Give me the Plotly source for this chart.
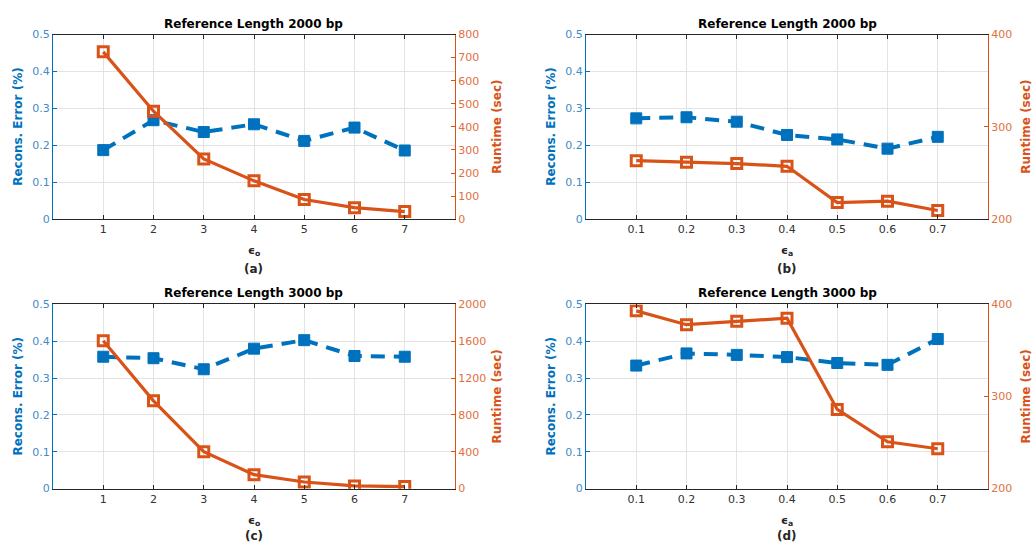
import plotly.graph_objects as go

# ---------------- data ----------------
eps_o = [1, 2, 3, 4, 5, 6, 7]
eps_a = [0.1, 0.2, 0.3, 0.4, 0.5, 0.6, 0.7]

err_a = [0.187, 0.268, 0.236, 0.257, 0.212, 0.248, 0.186]
run_a = [725, 468, 261, 166, 85, 50, 33]

err_b = [0.273, 0.276, 0.264, 0.228, 0.216, 0.191, 0.223]
run_b = [263.4, 261.6, 260.2, 257.3, 218, 219.5, 209.4]

err_c = [0.358, 0.354, 0.324, 0.380, 0.403, 0.360, 0.358]
run_c = [1606, 953, 401, 152, 72, 29, 22]

err_d = [0.334, 0.367, 0.363, 0.357, 0.341, 0.336, 0.406]
run_d = [393, 378, 381.6, 385, 286, 250.9, 243.3]

titles = ["Reference Length 2000 bp", "Reference Length 2000 bp",
          "Reference Length 3000 bp", "Reference Length 3000 bp"]
xlabels = ["ϵ<sub>o</sub>", "ϵ<sub>a</sub>", "ϵ<sub>o</sub>", "ϵ<sub>a</sub>"]
panel_tags = ["(a)", "(b)", "(c)", "(d)"]

BLUE = "#0072BD"
ORANGE = "#D95319"
BLUE_T = "#3f8cc6"
ORANGE_T = "#e0703f"
FONT = "DejaVu Sans"

W, H = 1034, 543


def vy(r):
    # vertical pixel placement helper
    return (r - 4.7) / 0.978


panels = [
    dict(x=eps_o, err=err_a, run=run_a, xr=[0, 8], xt=[1, 2, 3, 4, 5, 6, 7], xtt=["1", "2", "3", "4", "5", "6", "7"],
         rr=[0, 800], rd=100, px=(53, 455), py=(33.3, 218.3), tag_off=50),
    dict(x=eps_a, err=err_b, run=run_b, xr=[0, 0.8], xt=eps_a, xtt=["0.1", "0.2", "0.3", "0.4", "0.5", "0.6", "0.7"],
         rr=[200, 400], rd=100, px=(586, 988), py=(33.3, 218.3), tag_off=50),
    dict(x=eps_o, err=err_c, run=run_c, xr=[0, 8], xt=[1, 2, 3, 4, 5, 6, 7], xtt=["1", "2", "3", "4", "5", "6", "7"],
         rr=[0, 2000], rd=400, px=(53, 455), py=(303.7, 488.3), tag_off=47),
    dict(x=eps_a, err=err_d, run=run_d, xr=[0, 0.8], xt=eps_a, xtt=["0.1", "0.2", "0.3", "0.4", "0.5", "0.6", "0.7"],
         rr=[200, 400], rd=100, px=(586, 988), py=(303.7, 488.3), tag_off=47),
]

fig = go.Figure()
layout = {}
annotations = []

for i, p in enumerate(panels):
    n = i + 1
    xa = "x" if n == 1 else f"x{n}"
    ya_l = f"y{2*n-1}" if n > 1 else "y"
    ya_r = f"y{2*n}"
    xkey = "xaxis" if n == 1 else f"xaxis{n}"
    ylkey = "yaxis" if n == 1 else f"yaxis{2*n-1}"
    yrkey = f"yaxis{2*n}"

    top, bot = p["py"]
    xd = [p["px"][0] / W, p["px"][1] / W]
    yd = [1 - vy(bot) / H, 1 - vy(top) / H]

    fig.add_trace(go.Scatter(
        x=p["x"], y=p["err"], xaxis=xa, yaxis=ya_l, mode="lines+markers",
        line=dict(color=BLUE, width=4, dash="14px,9px"),
        marker=dict(symbol="square", size=11, color=BLUE, line=dict(width=1, color=BLUE)),
        showlegend=False))
    fig.add_trace(go.Scatter(
        x=p["x"], y=p["run"], xaxis=xa, yaxis=ya_r, mode="lines+markers",
        line=dict(color=ORANGE, width=3.2),
        marker=dict(symbol="square-open", size=10, color=ORANGE, line=dict(width=3, color=ORANGE)),
        showlegend=False))

    layout[xkey] = dict(
        domain=xd, range=p["xr"], anchor=ya_l,
        tickvals=p["xt"], ticktext=p["xtt"],
        ticks="inside", ticklen=4, tickcolor="#262626",
        showline=True, linecolor="#262626", linewidth=1, mirror="ticks",
        showgrid=True, gridcolor="#e3e3e3", gridwidth=1, zeroline=False,
        tickfont=dict(family=FONT, size=11, color="#333333"),
    )
    layout[ylkey] = dict(
        domain=yd, range=[0, 0.5], anchor=xa, dtick=0.1, tick0=0,
        ticks="inside", ticklen=4, tickcolor=BLUE,
        showline=True, linecolor=BLUE, linewidth=1,
        showgrid=True, gridcolor="#e3e3e3", gridwidth=1, zeroline=False,
        tickfont=dict(family=FONT, size=11, color=BLUE_T),
    )
    layout[yrkey] = dict(
        domain=yd, range=p["rr"], anchor=xa, overlaying=ya_l, side="right",
        dtick=p["rd"], tick0=0,
        ticks="inside", ticklen=4, tickcolor=ORANGE,
        showline=True, linecolor=ORANGE, linewidth=1,
        showgrid=False, zeroline=False,
        tickfont=dict(family=FONT, size=11, color=ORANGE_T),
    )

    cx = (p["px"][0] + p["px"][1]) / 2
    # title
    annotations.append(dict(
        x=cx / W, y=1 - vy(top - 11) / H, xref="paper", yref="paper",
        text=f"<b>{titles[i]}</b>", showarrow=False, xanchor="center", yanchor="middle",
        font=dict(family=FONT, size=12, color="#000000")))
    # x label
    annotations.append(dict(
        x=cx / W, y=1 - vy(bot + 32) / H, xref="paper", yref="paper",
        text=f"<b>{xlabels[i]}</b>", showarrow=False, xanchor="center", yanchor="middle",
        font=dict(family=FONT, size=11, color="#262626")))
    annotations.append(dict(
        x=cx / W, y=1 - vy(bot + p["tag_off"]) / H, xref="paper", yref="paper",
        text=f"<b>{panel_tags[i]}</b>", showarrow=False, xanchor="center", yanchor="middle",
        font=dict(family=FONT, size=12, color="#262626")))
    # y labels
    cy = (top + bot) / 2
    annotations.append(dict(
        x=(p["px"][0] - 35) / W, y=1 - vy(cy) / H, xref="paper", yref="paper",
        text="<b>Recons. Error (%)</b>", showarrow=False, textangle=-90,
        xanchor="center", yanchor="middle",
        font=dict(family=FONT, size=12, color=BLUE)))
    rx_off = 42 if p["rr"][1] >= 800 else 38
    annotations.append(dict(
        x=(p["px"][1] + rx_off) / W, y=1 - vy(cy) / H, xref="paper", yref="paper",
        text="<b>Runtime (sec)</b>", showarrow=False, textangle=-90,
        xanchor="center", yanchor="middle",
        font=dict(family=FONT, size=12, color=ORANGE)))

fig.update_layout(
    width=W, height=H, margin=dict(l=0, r=0, t=0, b=0),
    paper_bgcolor="white", plot_bgcolor="white",
    annotations=annotations, **layout)

fig.write_html("out.html")
